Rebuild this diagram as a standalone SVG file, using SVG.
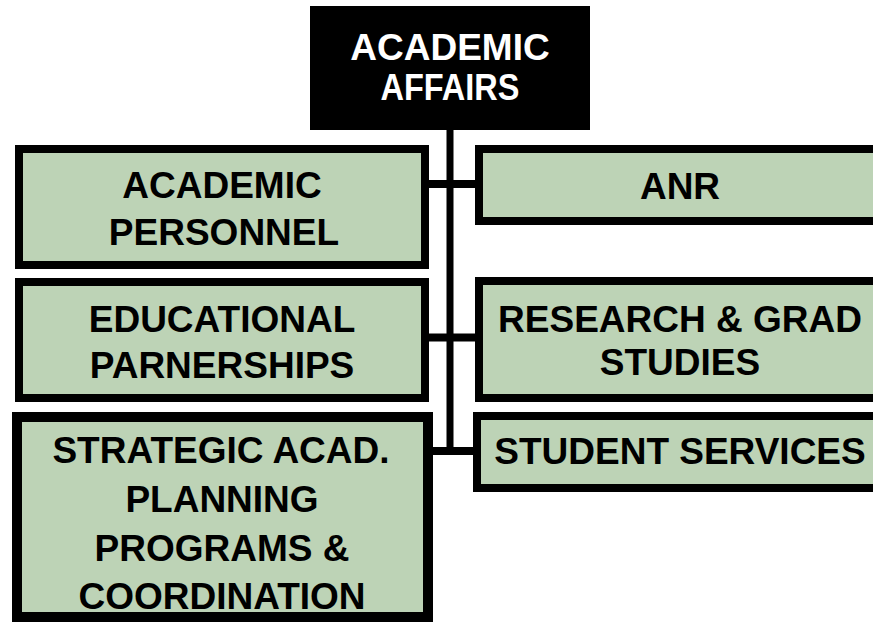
<svg xmlns="http://www.w3.org/2000/svg" width="873" height="623" viewBox="0 0 873 623">
<style>
.box{fill:#bdd3b6;stroke:#000;stroke-width:8}
.t{font-family:"Liberation Sans",Arial,sans-serif;font-weight:bold;font-size:37px;text-anchor:middle;fill:#000}
.w{fill:#fff}
.c{stroke:#000;stroke-width:7;fill:none}
.h{stroke:#000;stroke-width:8;fill:none}
</style>
<rect width="873" height="623" fill="#fff"/>
<g id="connectors">
<line class="c" x1="450" y1="128" x2="450" y2="455"/>
<line class="h" x1="428" y1="184" x2="476" y2="184"/>
<line class="h" x1="428" y1="337.5" x2="476" y2="337.5"/>
<line class="h" x1="432" y1="451" x2="474" y2="451"/>
</g>
<g id="academic-affairs">
<rect x="310" y="6" width="280" height="124" fill="#000"/>
<text class="t w" x="450" y="60">ACADEMIC</text>
<text class="t w" x="450" y="100" textLength="139" lengthAdjust="spacingAndGlyphs">AFFAIRS</text>
</g>
<g id="academic-personnel">
<rect class="box" x="19" y="149" width="406" height="116"/>
<text class="t" x="222" y="198">ACADEMIC</text>
<text class="t" x="224" y="244.5">PERSONNEL</text>
</g>
<g id="anr">
<rect class="box" x="479" y="149" width="402" height="72"/>
<text class="t" x="680" y="199">ANR</text>
</g>
<g id="educational-partnerships">
<rect class="box" x="19" y="282" width="406" height="116"/>
<text class="t" x="222" y="332">EDUCATIONAL</text>
<text class="t" x="222" y="377.5">PARNERSHIPS</text>
</g>
<g id="research-grad-studies">
<rect class="box" x="479" y="281" width="402" height="117"/>
<text class="t" x="680" y="332">RESEARCH &amp; GRAD</text>
<text class="t" x="680" y="375">STUDIES</text>
</g>
<g id="strategic">
<rect x="17" y="417" width="411" height="200" fill="#bdd3b6" stroke="#000" stroke-width="10"/>
<text class="t" x="221" y="463">STRATEGIC ACAD.</text>
<text class="t" x="222" y="512">PLANNING</text>
<text class="t" x="222" y="560.5">PROGRAMS &amp;</text>
<text class="t" x="222" y="608.5">COORDINATION</text>
</g>
<g id="student-services">
<rect class="box" x="477" y="416" width="404" height="72"/>
<text class="t" x="680" y="463.5">STUDENT SERVICES</text>
</g>
</svg>
